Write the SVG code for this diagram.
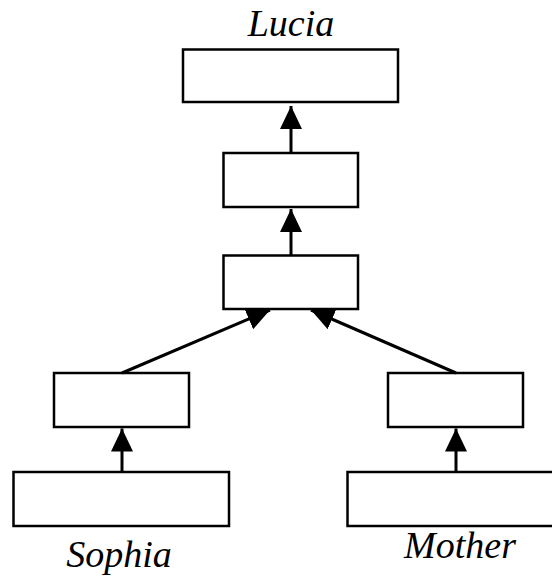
<svg xmlns="http://www.w3.org/2000/svg" width="552" height="577" viewBox="0 0 552 577">
<style>
.box{fill:#fff;stroke:#000;stroke-width:2.5}
.lbl{font-family:"Liberation Serif","Times New Roman",serif;font-style:italic;font-size:38px;fill:#000;text-anchor:middle}
.edge{stroke:#000;stroke-width:3;fill:none}
</style>
<defs>
<marker id="ah" markerUnits="userSpaceOnUse" markerWidth="24" markerHeight="24" refX="23" refY="11" orient="auto">
<path d="M0,0 L23,11 L0,22 z" fill="#000"/>
</marker>
</defs>
<rect width="552" height="577" fill="#fff"/>
<g id="n1"><rect class="box" x="183" y="49.5" width="215" height="52.5"/></g>
<g id="n2"><rect class="box" x="223.5" y="153" width="134.5" height="54"/></g>
<g id="n3"><rect class="box" x="223.5" y="255.5" width="134.5" height="53.5"/></g>
<g id="n4"><rect class="box" x="54" y="373" width="135" height="54"/></g>
<g id="n5"><rect class="box" x="388" y="373" width="135" height="54"/></g>
<g id="n6"><rect class="box" x="13.5" y="472" width="215.5" height="54"/></g>
<g id="n7"><rect class="box" x="347.5" y="472" width="220" height="54"/></g>
<g id="connectors">
<line class="edge" x1="291" y1="153" x2="291" y2="106" marker-end="url(#ah)"/>
<line class="edge" x1="291" y1="255.5" x2="291" y2="209" marker-end="url(#ah)"/>
<line class="edge" x1="122" y1="373" x2="270" y2="310" marker-end="url(#ah)"/>
<line class="edge" x1="456" y1="373" x2="311" y2="310" marker-end="url(#ah)"/>
<line class="edge" x1="122" y1="472" x2="122" y2="428.5" marker-end="url(#ah)"/>
<line class="edge" x1="456" y1="472" x2="456" y2="428.5" marker-end="url(#ah)"/>
</g>
<g id="labels">
<text class="lbl" x="291" y="36">Lucia</text>
<text class="lbl" x="119" y="567">Sophia</text>
<text class="lbl" x="460" y="558">Mother</text>
</g>
</svg>
